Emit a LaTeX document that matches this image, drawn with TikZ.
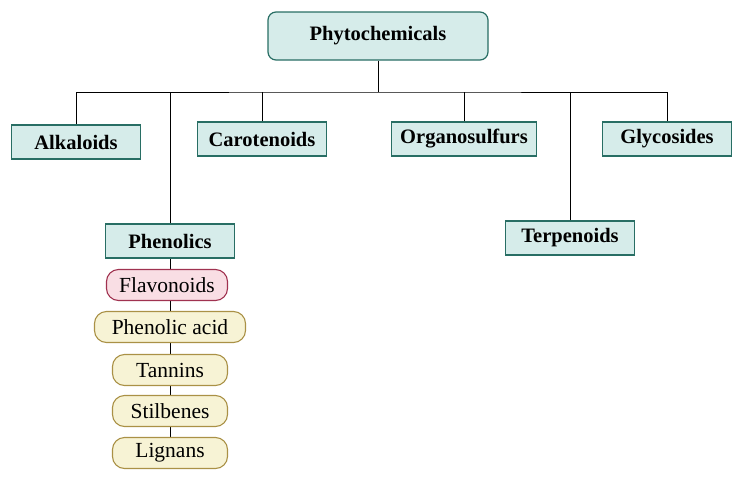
\documentclass[tikz,border=0pt]{standalone}
\usepackage{fontspec}
\setmainfont{Liberation Serif}
\definecolor{tb}{RGB}{40,110,100}
\definecolor{tf}{RGB}{214,236,234}
\definecolor{pb}{RGB}{160,50,80}
\definecolor{pf}{RGB}{249,222,228}
\definecolor{yb}{RGB}{170,145,70}
\definecolor{yf}{RGB}{247,243,213}
\begin{document}
\begin{tikzpicture}[x=1pt,y=-1pt,
 main/.style={draw=tb,fill=tf,line width=1.2pt,minimum height=34pt,minimum width=129pt,inner sep=0pt,font=\fontsize{20.5}{24}\selectfont\bfseries},
 sub/.style={rounded corners=12pt,line width=1.1pt,minimum height=31pt,inner sep=0pt,font=\fontsize{21.5}{25}\selectfont},
 pink/.style={sub,draw=pb,fill=pf},
 yel/.style={sub,draw=yb,fill=yf},
 ln/.style={line width=0.9pt}]
\useasboundingbox (0,0) rectangle (740,480);
\draw[ln] (170,258) -- (170,453);
\node[main,rounded corners=8pt,minimum width=220pt,minimum height=48pt] (phy) at (378,36) {Phytochemicals};
\node[main] (alk) at (76,142) {Alkaloids};
\node[main] (car) at (262,139) {Carotenoids};
\node[main,minimum width=145pt] (org) at (464,139) {Organosulfurs};
\node[main] (gly) at (667,139) {Glycosides};
\node[main] (phe) at (170,241) {Phenolics};
\node[main] (ter) at (570,238) {Terpenoids};
\node[pink,minimum width=121pt] (fla) at (167,285) {Flavonoids};
\node[yel,minimum width=151pt] (pa) at (170,327) {Phenolic acid};
\node[yel,minimum width=115pt] (tan) at (170,370) {Tannins};
\node[yel,minimum width=115pt] (sti) at (170,411) {Stilbenes};
\node[yel,minimum width=115pt] (lig) at (170,453) {Lignans};
\coordinate (b) at (378,92);
\draw[ln] (phy) -- (b);
\draw[ln] (alk.north) |- (b) -| (gly.north);
\draw[ln] (car.north) -- (car.north|-b);
\draw[ln] (org.north) -- (org.north|-b);
\draw[ln] (phe.north) -- (phe.north|-b);
\draw[ln] (ter.north) -- (ter.north|-b);
\end{tikzpicture}
\end{document}
